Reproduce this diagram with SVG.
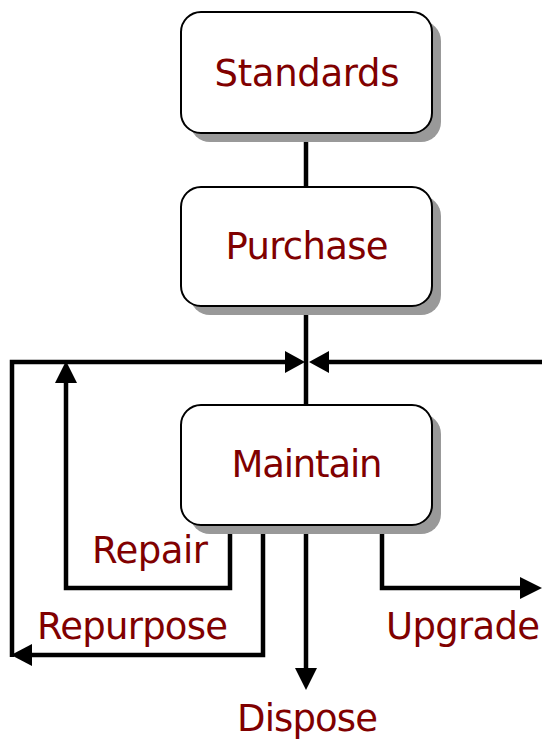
<svg xmlns="http://www.w3.org/2000/svg" width="542" height="742" viewBox="0 0 542 742">
<style>
.box{fill:#fff;stroke:#000;stroke-width:2}
.sh{fill:#999}
.lbl{font-family:"DejaVu Sans",Verdana,sans-serif;font-size:37px;fill:#800000}
.ln{fill:none;stroke:#000;stroke-width:4.5;stroke-linejoin:miter}
.ah{fill:#000}
</style>
<rect width="542" height="742" fill="#fff"/>
<g id="connectors">
<line class="ln" x1="306" y1="133" x2="306" y2="187"/>
<line class="ln" x1="306" y1="306" x2="306" y2="405"/>
<polyline class="ln" points="12,657 12,362 288,362"/>
<polygon class="ah" points="305,362 285,351 285,373"/>
<polyline class="ln" points="542,362 326,362"/>
<polygon class="ah" points="309,362 329,351 329,373"/>
<polyline class="ln" points="230,525 230,588 66,588 66,380"/>
<polygon class="ah" points="66,361 55,383 77,383"/>
<polyline class="ln" points="263,525 263,655 30,655"/>
<polygon class="ah" points="11,655 32,644 32,666"/>
<line class="ln" x1="306" y1="525" x2="306" y2="672"/>
<polygon class="ah" points="306,690 295,668 317,668"/>
<polyline class="ln" points="382,525 382,588 522,588"/>
<polygon class="ah" points="542,588 520,577 520,599"/>
</g>
<g id="standards">
<rect class="sh" x="190" y="21" width="251" height="121" rx="20"/>
<rect class="box" x="181" y="12" width="251" height="121" rx="20"/>
<text class="lbl" x="307" y="86" text-anchor="middle" textLength="185">Standards</text>
</g>
<g id="purchase">
<rect class="sh" x="190" y="196" width="251" height="119" rx="20"/>
<rect class="box" x="181" y="187" width="251" height="119" rx="20"/>
<text class="lbl" x="307" y="259" text-anchor="middle" textLength="163">Purchase</text>
</g>
<g id="maintain">
<rect class="sh" x="190" y="414" width="251" height="120" rx="20"/>
<rect class="box" x="181" y="405" width="251" height="120" rx="20"/>
<text class="lbl" x="307" y="477" text-anchor="middle" textLength="151">Maintain</text>
</g>
<g id="labels">
<text class="lbl" x="92" y="563" textLength="116">Repair</text>
<text class="lbl" x="37" y="639" textLength="191">Repurpose</text>
<text class="lbl" x="386" y="639" textLength="154">Upgrade</text>
<text class="lbl" x="237" y="731" textLength="141">Dispose</text>
</g>
</svg>
